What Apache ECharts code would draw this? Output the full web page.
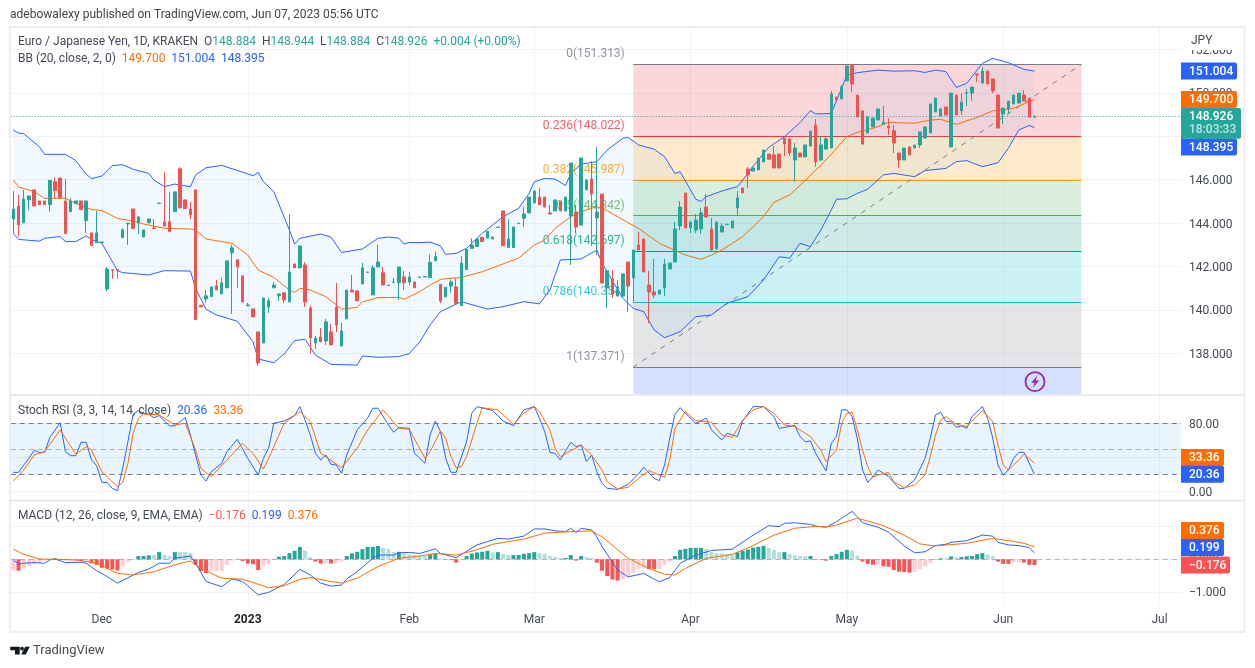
<!DOCTYPE html>
<html>
<head>
<meta charset="utf-8">
<title>EUR/JPY daily</title>
<style>html,body{margin:0;padding:0;background:#fff}#chart{width:1255px;height:668px}</style>
<script src="https://cdn.jsdelivr.net/npm/echarts@6/dist/echarts.min.js"></script>
</head>
<body>
<div id="chart"></div>
<script>
// Daily bars as [open, close, low, high], oldest first.
const candles = [
[144.19,144.65,143.53,145.48],[144.79,143.93,143.38,145.30],[144.02,145.11,143.99,145.53],[145.07,145.25,144.58,145.25],[145.53,144.79,144.79,145.53],
[145.02,144.85,144.85,145.02],[145.02,144.85,144.85,145.02],[144.85,145.97,144.53,145.97],[145.91,145.50,145.15,146.11],[146.08,145.18,145.18,146.08],
[145.02,143.52,143.52,146.04],[144.53,145.02,144.53,145.15],[144.90,145.02,144.90,145.02],[145.02,144.62,144.62,145.02],[144.12,145.02,143.53,145.02],
[143.55,142.97,142.97,143.55],[143.10,143.55,143.10,144.56],[143.11,143.13,143.11,143.13],[140.97,141.89,140.85,141.97],[141.86,141.82,141.43,141.86],
[141.86,141.82,141.44,141.86],[143.33,143.69,143.33,143.76],[143.96,144.00,143.00,144.00],[144.65,143.75,143.75,144.65],[144.02,144.29,143.50,144.29],
[143.36,143.69,143.36,143.69],[144.01,144.19,144.01,144.19],[143.78,143.75,143.75,144.19],[144.90,144.92,144.90,144.92],[144.06,143.87,143.83,146.36],
[144.06,143.61,143.61,145.44],[144.53,145.44,144.53,145.44],[146.50,144.70,144.70,146.59],[145.07,144.67,144.67,145.07],[144.65,144.38,144.19,144.98],
[145.53,139.56,139.56,145.53],[140.22,140.14,140.14,140.22],[140.51,140.65,140.33,140.92],[140.62,141.06,140.62,141.06],[141.11,140.92,140.92,141.38],
[140.74,141.25,140.74,141.48],[141.02,142.26,141.02,142.26],[142.63,142.86,139.82,143.00],[142.31,141.98,141.02,142.31],[141.57,140.37,140.37,141.57],
[140.19,140.23,140.19,140.32],[140.05,139.68,139.68,140.05],[138.99,137.56,137.42,138.99],[138.48,140.55,138.48,140.55],[140.14,140.42,139.86,140.55],
[141.02,141.15,141.02,141.29],[140.66,140.74,140.42,140.74],[140.79,140.46,140.32,140.79],[140.37,141.75,140.37,144.42],[142.12,141.94,141.94,142.12],
[141.94,142.95,141.94,142.95],[142.07,140.37,140.14,142.21],[140.09,138.71,137.98,140.19],[138.48,138.71,138.20,138.80],[138.76,138.53,138.53,139.17],
[138.57,139.45,138.39,139.59],[138.99,138.39,138.39,139.36],[140.14,139.31,138.99,141.25],[138.34,139.03,138.34,139.40],[139.59,140.92,139.59,140.92],
[140.92,140.83,140.83,141.61],[140.88,140.42,140.42,140.88],[141.20,141.94,141.20,142.17],[141.73,141.75,141.73,141.75],[140.69,141.94,140.69,142.07],
[141.98,142.21,141.98,143.00],[141.71,141.15,141.15,141.98],[141.13,141.15,141.13,141.15],[141.27,141.29,141.27,141.48],[141.25,141.98,140.46,141.98],
[141.52,141.25,140.92,141.80],[141.29,141.52,141.15,141.75],[141.29,141.02,141.02,141.29],[141.50,141.52,141.50,141.52],[141.52,141.54,141.52,141.54],
[141.49,142.19,141.49,142.58],[142.27,142.46,142.27,142.69],[141.18,140.41,140.32,141.18],[140.61,141.04,140.61,141.04],[141.10,141.29,140.80,141.41],
[141.06,140.31,140.23,141.46],[140.20,142.15,140.20,142.48],[141.86,142.79,141.86,142.79],[142.84,142.99,142.84,143.30],[142.92,143.27,142.92,143.27],
[143.35,143.15,143.15,143.35],[143.31,143.62,143.31,143.62],[143.27,143.36,143.27,143.36],[143.80,143.82,143.80,143.82],[144.56,142.96,142.96,144.56],
[142.87,143.27,142.87,144.19],[142.87,143.82,142.87,143.82],[143.98,144.00,143.98,144.00],[144.22,144.42,143.82,144.76],[144.47,145.20,144.47,145.20],
[144.93,145.48,144.93,145.48],[145.20,144.84,144.84,145.62],[145.20,144.74,144.74,145.20],[144.47,144.42,144.42,144.84],[144.56,145.07,144.56,145.07],
[145.00,144.56,144.56,145.00],[144.56,145.20,144.56,145.20],[144.33,146.77,142.07,146.77],[144.51,143.82,143.53,144.84],[143.91,147.00,143.91,147.00],
[145.53,145.99,145.53,145.99],[146.03,145.34,142.95,146.86],[144.24,144.51,142.53,147.51],[145.34,141.24,141.24,145.34],[141.01,141.80,140.09,141.80],
[141.43,140.74,140.55,141.84],[140.64,140.92,140.64,141.38],[140.64,141.66,140.64,141.66],[142.21,141.10,139.91,142.21],[141.47,142.76,140.35,142.76],
[142.99,142.76,142.76,143.59],[143.27,141.75,141.75,143.27],[141.15,140.83,139.39,141.80],[140.83,140.69,140.55,142.35],[140.73,140.92,140.73,140.92],
[141.01,142.12,140.64,142.35],[141.89,142.16,141.89,142.16],[142.21,143.73,142.21,144.05],[143.87,144.74,143.68,145.02],[145.39,143.78,143.78,145.39],
[143.78,144.05,143.54,144.05],[143.68,144.14,143.54,144.42],[143.73,144.47,143.50,144.70],[144.74,144.28,144.28,145.34],[143.73,142.76,142.76,144.24],
[142.81,144.05,142.81,144.05],[143.59,143.87,143.59,144.00],[143.93,143.95,143.93,143.95],[143.78,144.10,143.78,144.10],[144.70,145.16,144.37,145.48],
[145.62,145.39,145.39,145.62],[146.49,146.22,145.62,146.59],[146.40,146.54,146.40,146.54],[146.45,147.00,146.45,147.00],[146.82,147.37,146.82,147.37],
[147.18,146.94,146.94,147.18],[147.14,146.54,146.54,147.55],[147.18,146.54,146.54,147.18],[147.92,147.64,147.09,147.92],[147.88,147.23,147.09,147.88],
[146.91,147.46,145.90,147.69],[147.23,147.05,147.05,147.23],[147.05,147.60,147.05,147.60],[147.55,148.24,147.55,148.24],[148.52,146.82,146.59,148.80],
[146.91,147.60,146.86,147.97],[147.41,147.88,147.41,147.97],[147.46,149.95,147.46,150.09],[149.81,149.67,149.67,149.81],[149.72,150.27,149.72,150.36],
[150.55,151.24,150.55,151.24],[151.28,150.41,150.04,151.28],[149.90,148.89,148.89,149.90],[149.17,147.64,147.64,149.17],[148.15,148.89,148.15,148.89],
[148.43,148.84,148.43,148.84],[148.75,149.26,148.75,149.26],[148.55,148.66,148.55,149.40],[148.47,148.38,148.06,148.84],[148.26,147.69,147.23,148.52],
[147.23,146.91,146.54,147.23],[146.91,147.46,146.91,147.46],[147.51,147.14,147.14,147.51],[147.46,147.60,147.46,147.60],[147.60,148.20,147.46,148.20],
[147.92,148.43,147.92,148.43],[148.15,149.49,148.15,149.49],[149.12,149.76,149.12,149.76],[148.93,149.26,148.93,149.26],[149.35,148.98,148.98,149.35],
[147.51,149.99,147.51,149.99],[149.90,148.98,148.98,149.90],[149.17,149.58,148.98,149.99],[149.98,150.00,149.40,150.18],[149.99,150.27,149.63,150.27],
[150.87,150.82,150.50,150.87],[150.45,151.01,150.45,151.19],[151.01,150.41,150.41,151.01],[150.64,150.09,149.99,150.64],[149.90,148.38,148.38,149.90],
[149.03,149.30,148.57,149.30],[149.26,149.62,149.07,149.62],[149.49,149.90,149.49,149.90],[149.53,149.99,149.53,149.99],[149.90,149.62,149.62,150.13],
[149.76,148.884,148.86,149.76],[148.884,148.926,148.884,148.944]
];

// Bollinger Bands as [bar, value].
const bbUpper = [[0,148.29],[1,148.15],[2,148.12],[5,147.52],[6,147.17],[10,147.17],[12,146.88],[14,146.25],[15,146.05],[17,146.17],[19,146.65],[21,146.69],[23,146.48],[26,146.29],[27,145.98],[29,145.68],[31,145.80],[34,145.68],[35,146.22],[37,146.55],[40,146.66],[44,146.35],[46,146.18],[47,146.34],[48,145.91],[50,145.45],[53,143.68],[54,143.04],[55,143.30],[59,143.50],[61,143.35],[63,142.65],[67,142.81],[70,143.30],[72,143.36],[74,143.31],[75,143.04],[76,143.11],[78,143.10],[80,143.13],[82,142.95],[83,142.56],[85,142.61],[87,142.84],[90,143.53],[94,144.30],[97,144.68],[99,145.37],[100,145.91],[102,146.06],[104,146.03],[106,145.73],[107,146.29],[109,146.72],[112,146.83],[114,147.37],[117,147.91],[118,147.95],[120,147.60],[123,147.41],[125,147.06],[127,146.29],[128,146.37],[131,145.10],[132,145.00],[133,145.22],[136,145.48],[139,145.68],[141,146.29],[142,146.63],[145,147.49],[148,147.98],[151,148.63],[153,149.18],[154,149.03],[157,149.05],[160,150.82],[162,150.93],[166,151.05],[169,151.00],[173,151.02],[175,150.94],[177,151.05],[179,150.98],[181,150.25],[183,150.44],[186,151.36],[188,151.59],[191,151.39],[194,151.08],[196,151.004]];
const bbMiddle = [[0,145.99],[1,145.67],[4,145.45],[6,145.14],[10,145.14],[12,144.91],[15,144.63],[17,144.58],[20,144.22],[23,144.09],[25,143.96],[29,143.76],[34,143.73],[35,143.68],[37,143.27],[42,143.07],[45,142.53],[47,141.84],[50,141.50],[53,140.92],[54,140.80],[55,141.00],[57,140.92],[60,140.61],[63,140.04],[66,140.12],[67,140.37],[70,140.57],[74,140.58],[75,140.49],[78,140.84],[80,141.15],[82,141.41],[86,141.50],[90,141.76],[94,142.12],[97,142.39],[100,142.99],[102,143.22],[104,143.76],[107,144.30],[109,144.53],[112,144.76],[114,144.57],[118,144.02],[120,143.76],[124,143.07],[129,142.53],[132,142.33],[134,142.53],[136,142.76],[140,143.38],[144,144.30],[146,144.96],[149,145.30],[152,145.96],[156,146.91],[160,147.98],[162,148.18],[165,148.37],[168,148.64],[173,148.60],[176,148.75],[178,148.78],[181,148.55],[185,148.87],[188,149.17],[192,149.29],[196,149.70]];
const bbLower = [[0,143.53],[1,143.25],[5,143.17],[6,143.30],[9,143.38],[10,143.15],[12,143.15],[14,143.41],[15,143.25],[17,143.07],[20,141.81],[21,141.72],[26,141.61],[29,141.81],[34,141.79],[35,140.99],[37,140.03],[39,139.77],[43,139.48],[46,138.54],[47,137.74],[50,137.57],[52,137.97],[54,138.59],[56,138.65],[58,137.92],[61,137.49],[66,137.46],[67,137.88],[70,137.82],[74,137.85],[76,137.99],[78,138.52],[80,139.31],[82,139.92],[86,140.38],[91,140.04],[94,140.15],[98,140.38],[101,140.28],[103,140.92],[105,142.30],[109,142.35],[112,142.76],[113,142.15],[117,140.54],[119,140.07],[121,139.92],[123,139.08],[125,138.72],[128,139.00],[131,139.69],[134,139.77],[137,140.31],[141,140.61],[144,141.38],[147,142.45],[149,142.38],[151,143.07],[153,142.91],[155,143.68],[157,144.60],[158,145.10],[160,145.12],[162,145.37],[164,145.56],[167,146.22],[169,146.29],[173,146.14],[175,146.42],[179,146.52],[181,146.83],[183,146.88],[186,146.60],[189,146.78],[191,147.45],[193,148.29],[195,148.50],[196,148.395]];

// Stochastic RSI.
const stochK = [[0,22.6],[1,22.6],[2,31.2],[3,39],[4,48.4],[5,46],[6,46],[7,63.2],[9,80.8],[10,46.8],[11,42.1],[12,42.1],[13,57.8],[14,57.8],[15,37.1],[16,30.4],[17,10.9],[18,10.9],[19,3.9],[20,1.2],[21,27.3],[22,58.5],[23,90.5],[24,94.8],[25,91.7],[26,90.5],[27,86.6],[28,89],[30,76.9],[31,76.9],[33,86.6],[34,66.3],[35,42.9],[36,19.5],[37,12.5],[38,23.4],[40,33.2],[41,46.8],[43,61.3],[45,39],[47,19.5],[48,39],[49,50.7],[50,80],[52,82.7],[54,89],[55,99.5],[56,83.9],[57,66.3],[58,44.9],[59,37.1],[60,42.9],[61,32],[62,31.2],[63,21.5],[64,42.9],[66,72.2],[68,85.9],[69,97.6],[70,97.6],[72,78],[73,69.5],[74,74.9],[76,74.1],[77,44.9],[78,39],[79,33.2],[80,66.3],[81,82.7],[82,70.2],[83,39],[84,22.6],[85,22.6],[87,58.5],[88,91.7],[89,99.5],[92,94.8],[94,82.7],[96,77.3],[98,95.6],[100,99.5],[101,85.9],[102,70.2],[103,46],[104,44.9],[105,37.1],[107,57.8],[108,52.7],[109,54.6],[110,35.1],[111,42.9],[112,23.4],[113,9.8],[114,3.9],[116,2.7],[118,8.6],[120,20.7],[121,28.5],[123,15.6],[124,12.9],[125,31.2],[126,62.4],[127,90.5],[128,98.3],[129,91.7],[131,80],[133,85.9],[134,72.2],[136,60.5],[137,68.3],[139,64.4],[140,82.7],[142,99.5],[144,99.5],[146,87.8],[147,74.1],[150,77.3],[151,64.4],[152,58.5],[153,59.3],[154,44.9],[156,24.2],[157,56.6],[158,64.4],[159,95.6],[160,95.6],[161,87.8],[162,62.4],[163,25.4],[164,10.9],[165,17.6],[166,25.4],[168,17.6],[170,3.9],[171,3.9],[173,13.7],[175,39],[176,62.4],[177,89.8],[178,92.9],[179,82],[180,82],[181,75.3],[182,76.9],[183,74.1],[184,87.8],[186,99.5],[187,85.9],[188,62.4],[189,31.2],[190,19.5],[191,25.4],[192,39],[193,46],[194,46],[195,33.2],[196,20.36]];
const stochD = [[0,12.5],[2,25.4],[4,42.9],[6,46.8],[9,72.2],[12,43.7],[14,52.7],[15,48.8],[17,23.4],[20,5.9],[21,10.9],[22,33.2],[23,68.3],[24,85.9],[25,90.9],[28,89.8],[31,78],[33,80],[35,48.8],[36,27.3],[38,17.6],[41,37.1],[44,56.6],[46,44.9],[48,26.5],[49,39],[52,80],[55,93.7],[57,82],[59,44.9],[63,28.1],[66,50.7],[68,72.2],[71,95.6],[74,74.1],[76,73],[78,50.7],[79,39],[80,46.8],[82,71],[83,62.4],[84,41],[85,28.1],[86,29.3],[87,41],[89,80],[90,98.3],[93,95.6],[96,78.8],[98,91.7],[100,99.5],[101,93.7],[103,72.2],[104,50.7],[105,41],[109,54.6],[111,42.9],[113,25.4],[114,11.7],[116,3.1],[118,5.1],[120,15.6],[122,24.6],[125,16.8],[126,37.1],[127,74.1],[129,93.7],[131,83.1],[134,81.2],[136,66.3],[138,63.6],[140,83.9],[142,95.6],[144,99.5],[146,91.7],[148,78],[150,76.1],[153,64.4],[155,48.8],[156,35.1],[158,48.8],[159,80],[160,91.7],[161,92.9],[162,72.2],[163,48.8],[164,29.3],[165,16.8],[166,19.5],[168,22.6],[169,11.7],[171,4.7],[173,7.8],[175,19.5],[176,41],[177,66.3],[178,83.9],[179,87.8],[181,78.8],[183,76.1],[185,89],[186,94.8],[188,82],[189,54.6],[190,31.2],[191,25.4],[193,37.1],[194,44.1],[196,33.36]];

// MACD lines.
const macdLine = [[0,-0.02],[1,-0.15],[2,-0.12],[4,-0.10],[6,-0.12],[7,-0.02],[8,0.01],[10,-0.10],[13,-0.09],[14,-0.12],[16,-0.35],[17,-0.43],[20,-0.73],[24,-0.40],[26,-0.30],[28,-0.12],[30,-0.12],[31,0.03],[34,0.10],[35,-0.12],[37,-0.68],[40,-0.84],[42,-0.60],[44,-0.68],[45,-0.81],[47,-1.09],[49,-1.01],[52,-0.77],[55,-0.31],[57,-0.48],[59,-0.73],[61,-0.82],[63,-0.79],[64,-0.60],[66,-0.38],[69,0.03],[70,0.13],[73,0.13],[74,0.20],[76,0.21],[78,0.18],[81,0.32],[82,0.18],[85,0.05],[89,0.44],[93,0.64],[95,0.62],[98,0.71],[100,0.93],[102,0.93],[104,0.87],[106,0.85],[107,0.95],[108,0.82],[109,0.95],[111,0.90],[112,0.69],[113,0.39],[116,-0.33],[118,-0.54],[121,-0.43],[124,-0.69],[126,-0.56],[128,-0.12],[131,0.13],[134,0.27],[138,0.31],[142,0.74],[145,1.03],[147,1.00],[148,1.10],[150,1.12],[153,1.07],[154,1.02],[156,0.98],[158,1.15],[159,1.26],[161,1.47],[163,1.12],[166,0.98],[168,0.83],[171,0.41],[173,0.20],[175,0.23],[177,0.42],[179,0.46],[180,0.52],[183,0.57],[186,0.74],[188,0.71],[189,0.52],[191,0.44],[193,0.42],[195,0.36],[196,0.199]];
const macdSignal = [[0,0.31],[2,0.15],[5,0.01],[8,0],[12,-0.02],[16,-0.12],[20,-0.43],[23,-0.48],[27,-0.38],[31,-0.17],[34,-0.05],[36,-0.28],[40,-0.58],[44,-0.61],[46,-0.71],[49,-0.87],[52,-0.81],[55,-0.61],[57,-0.56],[61,-0.68],[63,-0.73],[66,-0.58],[70,-0.22],[74,0.03],[78,0.10],[81,0.18],[85,0.13],[89,0.29],[92,0.46],[98,0.62],[102,0.80],[107,0.85],[111,0.87],[113,0.69],[118,0.03],[122,-0.28],[125,-0.46],[127,-0.48],[129,-0.28],[133,0.03],[138,0.15],[142,0.42],[146,0.74],[150,0.95],[154,1.01],[156,0.99],[158,1.05],[162,1.26],[164,1.17],[167,1.03],[171,0.74],[174,0.47],[177,0.41],[183,0.49],[188,0.64],[191,0.57],[194,0.49],[196,0.376]];

// MACD histogram and its shade per bar: G rising above zero, L falling above zero,
// R falling below zero, P rising below zero.
const macdHist = [-0.34,-0.35,-0.26,-0.20,-0.15,-0.10,-0.05,-0.02,0.03,0.02,-0.03,-0.04,-0.04,-0.05,-0.04,-0.12,-0.17,-0.26,-0.28,-0.31,-0.34,-0.21,-0.09,-0.02,0.10,0.10,0.12,0.13,0.22,0.13,0.09,0.22,0.22,0.22,0.19,-0.17,-0.36,-0.42,-0.35,-0.37,-0.35,-0.17,-0.04,-0.01,-0.05,-0.13,-0.15,-0.33,-0.20,-0.14,-0.02,0.08,0.10,0.19,0.26,0.38,0.26,0.07,-0.07,-0.13,-0.12,-0.13,-0.10,-0.07,0.10,0.18,0.23,0.31,0.38,0.38,0.41,0.35,0.31,0.23,0.23,0.18,0.15,0.13,0.12,0.10,0.15,0.17,0.03,0.01,-0.02,-0.10,-0.01,0.10,0.18,0.21,0.23,0.26,0.21,0.22,0.16,0.13,0.13,0.13,0.17,0.19,0.22,0.19,0.16,0.10,0.07,0.04,0.04,0.13,-0.04,0.10,0.07,0.04,-0.10,-0.35,-0.51,-0.62,-0.65,-0.60,-0.52,-0.42,-0.30,-0.26,-0.30,-0.30,-0.30,-0.17,-0.07,0.10,0.29,0.32,0.35,0.35,0.35,0.32,0.22,0.19,0.18,0.16,0.14,0.21,0.26,0.30,0.36,0.38,0.41,0.35,0.29,0.22,0.22,0.16,0.12,0.10,0.10,0.10,-0.01,-0.01,-0.04,0.10,0.16,0.23,0.29,0.27,0.12,-0.07,-0.14,-0.17,-0.17,-0.21,-0.23,-0.33,-0.38,-0.39,-0.41,-0.38,-0.30,-0.22,-0.11,0.01,0.03,0.03,0.09,0.06,0.07,0.09,0.10,0.16,0.19,0.15,0.10,-0.07,-0.14,-0.14,-0.09,-0.09,-0.10,-0.17,-0.176];
const macdShade = "PRPPPPPPGLPPPRPRRRRRRPPPGGGLGLLGLLLRRRPPPPPPRRRRPPPGGGGGLLRRPRPPGGGGGGGLLLGLLLLLGGLLRRPGGGGGLGLLGGGGGLLLLLGGRGLLRRRRRPPPPPRRPPPGGGGGGLLLLLLGGGGGGLLLGLLLLGRRRGGGGLLRRRPRRRRRRPPPPGGLGLGGGGGLLRRRPPRRR";

// Fibonacci retracement levels, anchored between two bars.
const fibStart = 119;
const fibEnd = 205;
const fibLevels = [
  {name: '0', price: 151.313, line: '#787b86', fill: 'rgba(242,54,69,0.2)'},
  {name: '0.236', price: 148.022, line: '#f23645', fill: 'rgba(255,152,0,0.2)'},
  {name: '0.382', price: 145.987, line: '#ff9800', fill: 'rgba(76,175,80,0.2)'},
  {name: '0.5', price: 144.342, line: '#4caf50', fill: 'rgba(8,153,129,0.2)'},
  {name: '0.618', price: 142.697, line: '#089981', fill: 'rgba(0,188,212,0.2)'},
  {name: '0.786', price: 140.354, line: '#00bcd4', fill: 'rgba(120,123,134,0.2)'},
  {name: '1', price: 137.371, line: '#787b86', fill: 'rgba(41,98,255,0.2)'}
];

// Bar positions of the month marks on the time axis.
const monthTicks = {17: 'Dec', 45: '2023', 76: 'Feb', 100: 'Mar', 130: 'Apr', 160: 'May', 190: 'Jun', 220: 'Jul'};
const slotCount = 225;
const slots = Array.from({length: slotCount}, (_, i) => String(i));

const priceTicks = [138, 140, 142, 144, 146, 148, 150, 152];
const stochTicks = [0, 40, 80];
const macdTicks = [-1, 0, 1];

const lastClose = 148.926;
const FONT = 'Roboto, sans-serif';
const BLUE = '#2962ff', ORANGE = '#ff6d00', TEAL = '#26a69a', RED = '#ef5350', INK = '#444a55';
const GRID = '#f0f3fa';
const shadeColor = {G: '#26a69a', L: '#b2dfdb', R: '#ff5252', P: '#ffcdd2'};

const isMonth = i => monthTicks[i] !== undefined;

function timeAxis(gridIndex, withLabels) {
  return {
    type: 'category', gridIndex, data: slots, boundaryGap: true,
    axisLine: {show: false},
    axisTick: {show: false, alignWithLabel: true, interval: isMonth},
    splitLine: {show: true, alignWithLabel: true, interval: isMonth, lineStyle: {color: GRID, width: 1}},
    axisLabel: {
      show: withLabels, interval: isMonth, margin: 9, hideOverlap: false,
      fontFamily: FONT, fontSize: 12, color: INK,
      formatter: v => monthTicks[v] === '2023' ? '{y|2023}' : (monthTicks[v] || ''),
      rich: {y: {fontFamily: FONT, fontSize: 12, fontWeight: 'bold', color: '#222'}}
    }
  };
}

function valueAxis(gridIndex, min, max, ticks, fmt) {
  return {
    type: 'value', gridIndex, position: 'right', min, max, scale: true,
    axisLine: {show: false},
    axisTick: {show: false, customValues: ticks},
    splitLine: {show: true, lineStyle: {color: GRID, width: 1}},
    axisLabel: {customValues: ticks, margin: 6, verticalAlign: 'top', lineHeight: 3, fontFamily: FONT, fontSize: 12, color: INK, formatter: fmt}
  };
}

function thinLine(name, data, color, xIndex, yIndex, z) {
  return {
    name, type: 'line', data, xAxisIndex: xIndex, yAxisIndex: yIndex, z,
    showSymbol: false, connectNulls: true, silent: true,
    lineStyle: {color, width: 1}, itemStyle: {color}
  };
}

const fibAreas = fibLevels.map((lvl, i) => [
  {coord: [fibStart, lvl.price], itemStyle: {color: lvl.fill}},
  {coord: [fibEnd, i + 1 < fibLevels.length ? fibLevels[i + 1].price : 136.13]}
]);
const fibLines = fibLevels.map(lvl => [
  {coord: [fibStart, lvl.price], lineStyle: {color: lvl.line, width: 1, type: 'solid', opacity: 1}},
  {coord: [fibEnd, lvl.price]}
]);
const fibTrend = [{coord: [fibStart, 137.371], lineStyle: {color: '#787b86', width: 1, type: [5, 6]}}, {coord: [fibEnd, 151.313]}];

const fibLabels = fibLevels.map(lvl => ({
  value: [fibStart, lvl.price],
  label: {color: lvl.line, formatter: lvl.name + '(' + lvl.price.toFixed(3) + ')'}
}));

const option = {
  animation: false,
  backgroundColor: '#fff',
  grid: [
    {left: 10.7, width: 1172.25, top: 28, height: 366},
    {left: 10.7, width: 1172.25, top: 396, height: 103},
    {left: 10.7, width: 1172.25, top: 501, height: 104}
  ],
  xAxis: [timeAxis(0, false), timeAxis(1, false), timeAxis(2, true)],
  yAxis: [
    valueAxis(0, 136.129, 152.988, priceTicks, v => v.toFixed(3)),
    valueAxis(1, -8.54, 111.9, stochTicks, v => v.toFixed(2)),
    valueAxis(2, -1.399, 1.785, macdTicks, v => v.toFixed(3).replace('-', '\u2212'))
  ],
  series: [
    // Fibonacci bands
    {
      type: 'line', data: [], xAxisIndex: 0, yAxisIndex: 0, z: 1, silent: true,
      markArea: {silent: true, z: 1, data: fibAreas}
    },
    // Fibonacci levels and the trend line through them
    {
      type: 'line', data: [], xAxisIndex: 0, yAxisIndex: 0, z: 2, silent: true,
      markLine: {silent: true, z: 2, symbol: 'none', label: {show: false}, data: fibLines.concat([fibTrend])}
    },
    // Bollinger band fill
    {
      type: 'custom', data: [[0, 0]], xAxisIndex: 0, yAxisIndex: 0, z: 3, silent: true, clip: true,
      renderItem: (params, api) => ({
        type: 'polygon',
        shape: {points: bbUpper.concat(bbLower.slice().reverse()).map(p => api.coord(p))},
        style: {fill: 'rgba(33,150,243,0.06)'}
      })
    },
    // Fibonacci captions
    {
      type: 'scatter', data: fibLabels, xAxisIndex: 0, yAxisIndex: 0, z: 3, silent: true,
      symbolSize: 1, itemStyle: {color: 'transparent'},
      label: {show: true, position: 'left', distance: 8, offset: [0, -10], fontFamily: FONT, fontSize: 12}
    },
    thinLine('BB upper', bbUpper, BLUE, 0, 0, 4),
    thinLine('BB lower', bbLower, BLUE, 0, 0, 4),
    thinLine('BB basis', bbMiddle, ORANGE, 0, 0, 4),
    {
      type: 'candlestick', data: candles, xAxisIndex: 0, yAxisIndex: 0, z: 5, silent: true,
      barWidth: 3,
      itemStyle: {color: TEAL, color0: RED, borderColor: TEAL, borderColor0: RED, borderWidth: 1},
      markLine: {
        silent: true, symbol: 'none', label: {show: false},
        lineStyle: {color: TEAL, type: [1, 2], width: 1},
        data: [{yAxis: lastClose}]
      }
    },
    // Stochastic RSI
    Object.assign(thinLine('%K', stochK, BLUE, 1, 1, 4), {
      markArea: {silent: true, z: 1, itemStyle: {color: 'rgba(33,150,243,0.1)'}, data: [[{yAxis: 20}, {yAxis: 80}]]},
      markLine: {
        silent: true, symbol: 'none', label: {show: false}, z: 2,
        data: [
          {yAxis: 80, lineStyle: {color: '#787b86', type: [5, 4], width: 1}},
          {yAxis: 50, lineStyle: {color: 'rgba(120,123,134,0.55)', type: [5, 4], width: 1}},
          {yAxis: 20, lineStyle: {color: '#787b86', type: [5, 4], width: 1}}
        ]
      }
    }),
    thinLine('%D', stochD, ORANGE, 1, 1, 5),
    // MACD
    {
      name: 'Histogram', type: 'bar', xAxisIndex: 2, yAxisIndex: 2, z: 3, silent: true, barWidth: 4,
      data: macdHist.map((v, i) => ({value: v, itemStyle: {color: shadeColor[macdShade[i]]}})),
      markLine: {
        silent: true, symbol: 'none', label: {show: false},
        lineStyle: {color: 'rgba(120,123,134,0.5)', type: [5, 4], width: 1},
        data: [{yAxis: 0}]
      }
    },
    thinLine('MACD', macdLine, BLUE, 2, 2, 4),
    thinLine('Signal', macdSignal, ORANGE, 2, 2, 5)
  ]
};

const chart = echarts.init(document.getElementById('chart'), null, {renderer: 'canvas'});
chart.setOption(option);

// Price scale tags, pushed apart where they would otherwise overlap.
const tags = [
  {pane: 0, value: 151.004, text: '151.004', color: BLUE, shift: 0, right: 1237},
  {pane: 0, value: 149.700, text: '149.700', color: ORANGE, shift: 0, right: 1237},
  {pane: 0, value: 148.395, text: '148.395', color: BLUE, shift: 19.3, right: 1237},
  {pane: 1, value: 33.36, text: '33.36', color: ORANGE, shift: -5.7, right: 1224},
  {pane: 1, value: 20.36, text: '20.36', color: BLUE, shift: 0, right: 1224},
  {pane: 2, value: 0.376, text: '0.376', color: ORANGE, shift: -16.5, right: 1224},
  {pane: 2, value: 0.199, text: '0.199', color: BLUE, shift: -5.3, right: 1224},
  {pane: 2, value: -0.176, text: '\u22120.176', color: '#ff5252', shift: 0, right: 1230}
];

function textEl(x, y, text, fontSize, fill, weight) {
  return {type: 'text', x, y, z: 50, silent: true,
    style: {text, fill, font: (weight ? weight + ' ' : '') + fontSize + 'px ' + FONT, verticalAlign: 'middle'}};
}

// Legend row made of coloured runs.
function legendRow(x, y, runs) {
  const rich = {};
  const parts = runs.map((r, i) => {
    rich['r' + i] = {fill: r[1], font: '12px ' + FONT};
    return '{r' + i + '|' + r[0] + '}';
  });
  return {type: 'text', x, y, z: 50, silent: true, style: {text: parts.join(''), rich, verticalAlign: 'middle', font: '12px ' + FONT}};
}

const els = [];
// chart frame and pane separators
els.push({type: 'rect', z: 10, silent: true, shape: {x: 1181, y: 28, width: 3, height: 577}, style: {fill: '#fff'}});
els.push({type: 'rect', z: 11, silent: true, shape: {x: 10, y: 27, width: 1234.5, height: 605}, style: {fill: 'none', stroke: '#eceef4', lineWidth: 2}});
els.push({type: 'line', z: 11, silent: true, shape: {x1: 10, y1: 395, x2: 1244, y2: 395}, style: {stroke: '#e0e3eb', lineWidth: 1.5}});
els.push({type: 'line', z: 11, silent: true, shape: {x1: 10, y1: 500.5, x2: 1244, y2: 500.5}, style: {stroke: '#e0e3eb', lineWidth: 1.5}});

// currency caption masks the top tick label
els.push({type: 'rect', z: 20, silent: true, shape: {x: 1182, y: 29, width: 60, height: 21}, style: {fill: '#fff'}});
els.push(textEl(1191, 41, 'JPY', 12, INK));

tags.forEach(t => {
  const py = chart.convertToPixel({yAxisIndex: t.pane}, t.value) + t.shift;
  els.push({type: 'rect', z: 30, silent: true, shape: {x: 1181, y: py - 8.5, width: t.right - 1181, height: 17, r: [0, 2, 2, 0]}, style: {fill: t.color}});
  els.push(textEl(1189, py + 0.5, t.text, 12, '#fff', 500));
});
// last price tag with the bar countdown
{
  const py = chart.convertToPixel({yAxisIndex: 0}, lastClose);
  els.push({type: 'rect', z: 31, silent: true, shape: {x: 1181, y: py - 8.2, width: 60, height: 30.7, r: [0, 2, 2, 0]}, style: {fill: TEAL}});
  els.push(textEl(1189, py + 0.5, '148.926', 12, '#fff', 500));
  els.push(textEl(1189, py + 14, '18:03:33', 12, 'rgba(255,255,255,0.7)', 500));
}

els.push(textEl(10, 15, 'adebowalexy published on TradingView.com, Jun 07, 2023 05:56 UTC', 12, '#444'));
const D = '#444a55';
els.push(legendRow(18, 42, [['Euro / Japanese Yen, 1D, KRAKEN  O', D], ['148.884', TEAL], ['  H', D], ['148.944', TEAL], ['  L', D], ['148.884', TEAL], ['  C', D], ['148.926', TEAL], ['  +0.004 (+0.00%)', TEAL]]));
els.push(legendRow(18, 59, [['BB (20, close, 2, 0)  ', D], ['149.700', ORANGE], ['  ', D], ['151.004', BLUE], ['  ', D], ['148.395', BLUE]]));
els.push(legendRow(18, 411, [['Stoch RSI (3, 3, 14, 14, close)  ', D], ['20.36', BLUE], ['  ', D], ['33.36', ORANGE]]));
els.push(legendRow(18, 516, [['MACD (12, 26, close, 9, EMA, EMA)  ', D], ['\u22120.176', '#ff5252'], ['  ', D], ['0.199', BLUE], ['  ', D], ['0.376', ORANGE]]));

// purple lightning badge
els.push({type: 'circle', z: 12, silent: true, shape: {cx: 1035, cy: 381.7, r: 9.5}, style: {fill: 'none', stroke: '#9c27b0', lineWidth: 1.8}});
els.push({type: 'polygon', z: 12, silent: true, shape: {points: [[1037.5, 375.5], [1031, 382.7], [1034.5, 382.7], [1032.7, 388], [1039.2, 380.6], [1035.7, 380.6]]}, style: {fill: '#9c27b0'}});

// TradingView wordmark
els.push({type: 'polygon', z: 12, silent: true, shape: {points: [[10.3, 646.8], [19.7, 646.8], [19.7, 654.6], [15, 654.6], [15, 650.3], [10.3, 650.3]]}, style: {fill: '#131722'}});
els.push({type: 'circle', z: 12, silent: true, shape: {cx: 22, cy: 648.6, r: 1.9}, style: {fill: '#131722'}});
els.push({type: 'polygon', z: 12, silent: true, shape: {points: [[25.2, 646.8], [29.7, 646.8], [25.8, 654.6], [21.2, 654.6]]}, style: {fill: '#131722'}});
els.push(textEl(33, 650.5, 'TradingView', 13, '#4a4a4a'));

chart.setOption({graphic: {elements: els}});
</script>
</body>
</html>
